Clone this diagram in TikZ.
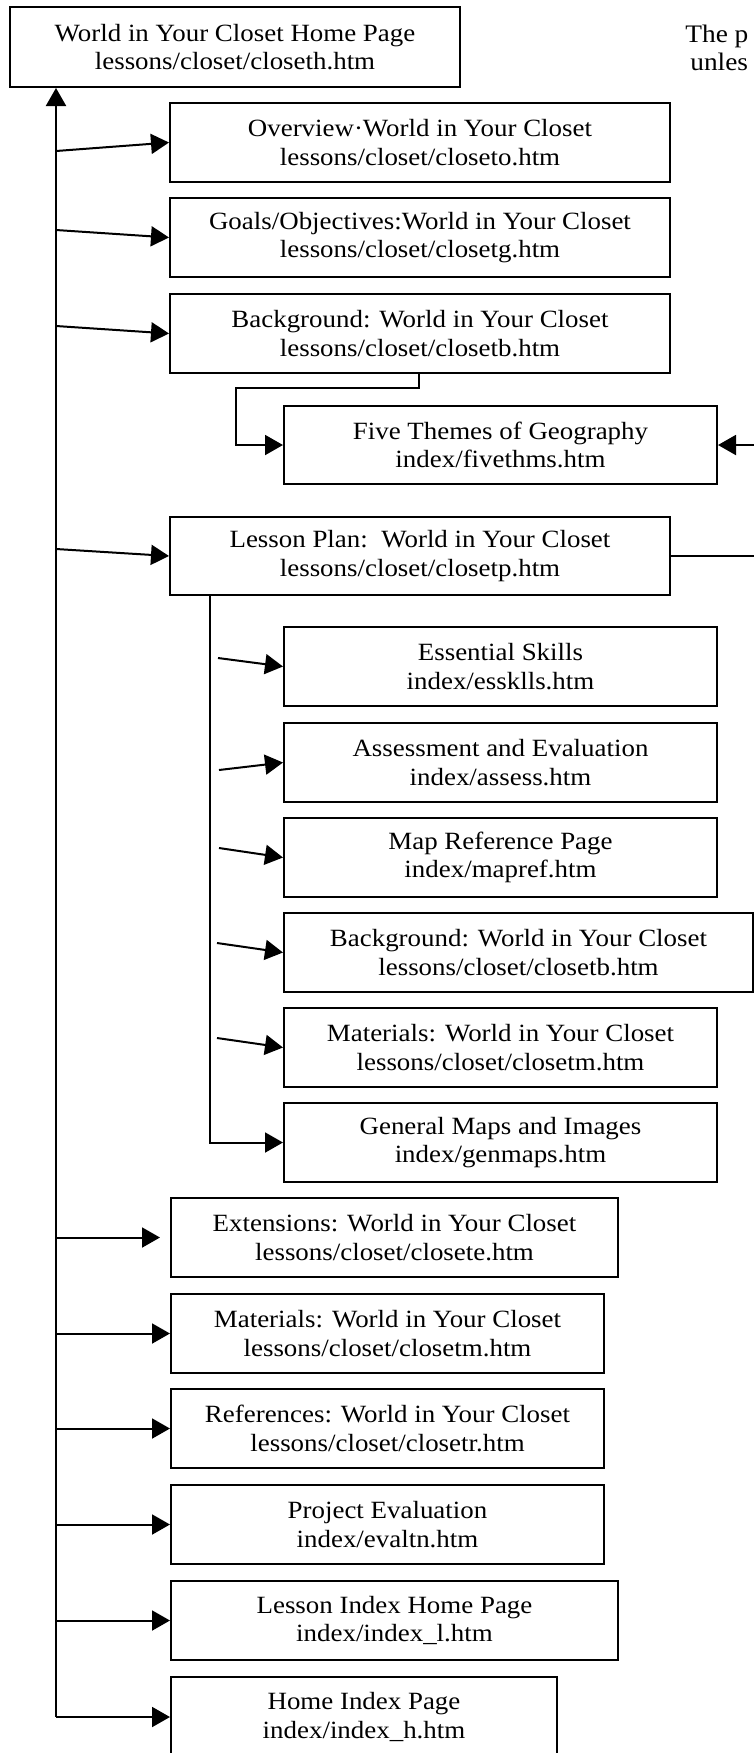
\documentclass[tikz,border=0pt]{standalone}
\usepackage{fontspec}
\setmainfont{Liberation Serif}[FakeStretch=1.085]
\usetikzlibrary{arrows.meta}

\tikzset{
  pagebox/.style 2 args={draw, line width=1pt, anchor=north west, inner sep=0pt,
    align=center, minimum width=#1*0.5pt, minimum height=#2*0.5pt,
    font=\fontsize{12.4pt}{14.3pt}\selectfont},
  link/.style={line width=1pt, -{Triangle[length=9pt,width=10pt]}},
  note/.style={anchor=base west, inner sep=0pt, font=\fontsize{12.6pt}{14.5pt}\selectfont}
}

\begin{document}
\begin{tikzpicture}[x=0.5pt,y=-0.5pt]
\useasboundingbox (0,0) rectangle (754,1753);
\fill[white] (0,0) rectangle (754,1753);
\clip (0,0) rectangle (754,1753);

% site map pages
\node[pagebox={450}{80}] (root) at (9,6) {World in Your Closet Home Page\\lessons/closet/closeth.htm};
\node[pagebox={500}{79}] (ov) at (169,102) {Overview·World in Your Closet\\lessons/closet/closeto.htm};
\node[pagebox={500}{79}] (go) at (169,197) {Goals/Objectives:World in Your Closet\\lessons/closet/closetg.htm};
\node[pagebox={500}{79}] (bg) at (169,293) {Background: World in Your Closet\\lessons/closet/closetb.htm};
\node[pagebox={433}{78}] (ft) at (283,405) {Five Themes of Geography\\index/fivethms.htm};
\node[pagebox={500}{78}] (lp) at (169,516) {Lesson Plan:~~World in Your Closet\\lessons/closet/closetp.htm};
\node[pagebox={433}{79}] (es) at (283,626) {Essential Skills\\index/essklls.htm};
\node[pagebox={433}{79}] (as) at (283,722) {Assessment and Evaluation\\index/assess.htm};
\node[pagebox={433}{79}] (mr) at (283,817) {Map Reference Page\\index/mapref.htm};
\node[pagebox={469}{79}] (bgb) at (283,912) {Background: World in Your Closet\\lessons/closet/closetb.htm};
\node[pagebox={433}{79}] (mab) at (283,1007) {Materials: World in Your Closet\\lessons/closet/closetm.htm};
\node[pagebox={433}{79}] (gm) at (283,1102) {General Maps and Images\\index/genmaps.htm};
\node[pagebox={447}{79}] (ex) at (170,1197) {Extensions: World in Your Closet\\lessons/closet/closete.htm};
\node[pagebox={433}{79}] (ma) at (170,1293) {Materials: World in Your Closet\\lessons/closet/closetm.htm};
\node[pagebox={433}{79}] (re) at (170,1388) {References: World in Your Closet\\lessons/closet/closetr.htm};
\node[pagebox={433}{79}] (pe) at (170,1484) {Project Evaluation\\index/evaltn.htm};
\node[pagebox={447}{79}] (li) at (170,1580) {Lesson Index Home Page\\index/index\_l.htm};
\node[pagebox={386}{80}] (hi) at (170,1676) {Home Index Page\\index/index\_h.htm};

% note at the top right
\node[note] (noteA) at (685,42) {The p};
\node[note] (noteB) at (690,70) {unles};

% main trunk back to the home page
\coordinate (trunk) at (56,0);
\draw[link] (trunk |- hi.west) -- (trunk |- root.south);

% branches off the trunk
\coordinate (t1) at (56,151);
\coordinate (t2) at (56,230);
\coordinate (t3) at (56,326);
\coordinate (t4) at (56,549);
\draw[link] (t1) -- (ov.west);
\draw[link] (t2) -- (go.west);
\draw[link] (t3) -- (bg.west);
\draw[link] (t4) -- (lp.west);
\draw[link, shorten >=5pt] (trunk |- ex.west) -- (ex.west);
\draw[link] (trunk |- ma.west) -- (ma.west);
\draw[link] (trunk |- re.west) -- (re.west);
\draw[link] (trunk |- pe.west) -- (pe.west);
\draw[link] (trunk |- li.west) -- (li.west);
\draw[link] (trunk |- hi.west) -- (hi.west);

% background page to the five themes page
\coordinate (b1) at (419,0);
\coordinate (b2) at (236,388);
\draw[link] (bg.south -| b1) |- (b2) |- (ft.west);

% lesson plan to the five themes page, round the right side
\coordinate (rr) at (790,0);
\draw[link] (lp.east) -| (rr |- ft.east) -- (ft.east);

% lesson plan sub-pages
\coordinate (sub) at (210,0);
\draw[link] (lp.south -| sub) |- (gm.west);
\coordinate (s1) at (218,658);
\coordinate (s2) at (219,770);
\coordinate (s3) at (219,848);
\coordinate (s4) at (217,943);
\coordinate (s5) at (217,1038);
\draw[link] (s1) -- (es.west);
\draw[link] (s2) -- (as.west);
\draw[link] (s3) -- (mr.west);
\draw[link] (s4) -- (bgb.west);
\draw[link] (s5) -- (mab.west);
\end{tikzpicture}
\end{document}
